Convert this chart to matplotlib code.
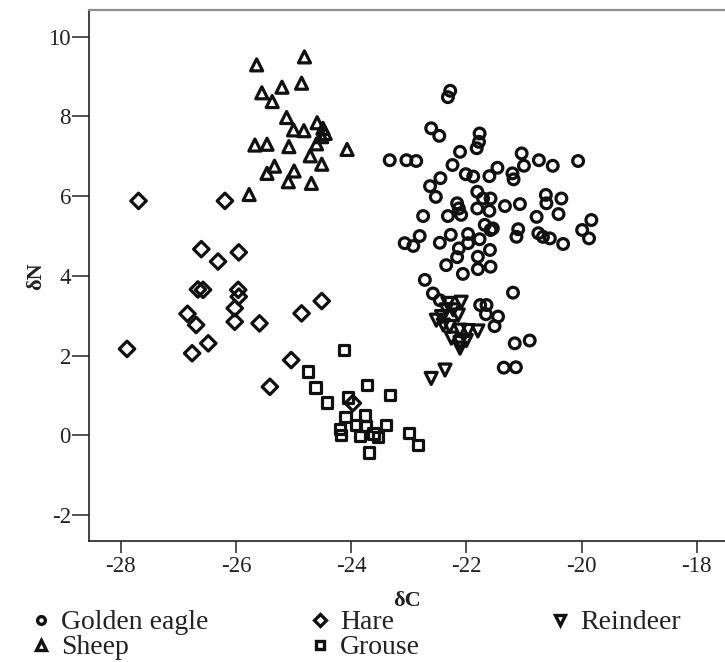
import matplotlib
matplotlib.use("Agg")
import matplotlib.pyplot as plt
from matplotlib.lines import Line2D

plt.rcParams['font.family'] = ['Liberation Serif', 'DejaVu Serif']
plt.rcParams['axes.unicode_minus'] = False

# ---- data (δC, δN) ----
eagle_x = [-22.28, -22.32, -22.61, -22.47, -21.77, -21.78, -21.82, -22.11, -23.33, -23.04,
           -22.87, -21.04, -21.00, -20.74, -20.50, -20.06, -22.24, -22.01, -21.88, -21.60,
           -21.46, -21.20, -21.18, -22.45, -22.63, -22.53, -21.81, -21.71, -21.58, -22.16,
           -22.13, -21.81, -21.60, -21.33, -21.07, -20.62, -20.61, -20.35, -20.40, -20.78,
           -22.75, -22.32, -22.09, -19.83, -19.99, -19.87, -21.68, -21.54, -21.58, -21.10,
           -21.13, -20.75, -20.67, -20.55, -20.32, -22.81, -23.07, -22.92, -22.46, -22.27,
           -21.97, -21.97, -21.77, -22.13, -21.59, -22.16, -21.80, -22.35, -22.06, -21.80,
           -21.58, -22.72, -22.58, -21.19, -21.76, -21.65, -21.66, -21.45, -21.51, -21.16,
           -20.90, -21.35, -21.14, -22.46]
eagle_y = [8.64, 8.48, 7.70, 7.51, 7.57, 7.36, 7.20, 7.11, 6.90, 6.90,
           6.88, 7.07, 6.76, 6.90, 6.76, 6.88, 6.78, 6.55, 6.49, 6.50,
           6.71, 6.57, 6.42, 6.45, 6.25, 5.98, 6.11, 5.94, 5.94, 5.82,
           5.69, 5.69, 5.63, 5.75, 5.80, 6.03, 5.82, 5.94, 5.55, 5.48,
           5.50, 5.50, 5.53, 5.40, 5.15, 4.94, 5.28, 5.19, 5.15, 5.17,
           4.98, 5.07, 4.98, 4.94, 4.80, 5.00, 4.82, 4.75, 4.83, 5.03,
           5.05, 4.82, 4.92, 4.69, 4.65, 4.47, 4.48, 4.27, 4.05, 4.17,
           4.23, 3.90, 3.56, 3.58, 3.27, 3.27, 3.04, 2.98, 2.74, 2.31,
           2.38, 1.70, 1.71, 3.39]

sheep_x = [-24.81, -25.64, -24.86, -25.20, -25.55, -25.37, -25.12, -24.59, -25.00, -24.82,
           -24.49, -24.45, -24.51, -25.67, -25.46, -25.08, -24.60, -24.07, -24.71, -24.51,
           -25.33, -25.46, -24.99, -25.09, -24.69, -25.77]
sheep_y = [9.49, 9.29, 8.83, 8.73, 8.59, 8.37, 7.97, 7.84, 7.66, 7.64,
           7.70, 7.57, 7.49, 7.28, 7.30, 7.24, 7.31, 7.17, 7.01, 6.80,
           6.75, 6.57, 6.63, 6.36, 6.32, 6.04]

hare_x = [-27.69, -26.19, -26.60, -26.31, -25.95, -26.66, -26.57, -25.96, -25.95, -26.02,
          -26.84, -26.69, -26.02, -25.59, -24.86, -24.51, -27.89, -26.76, -26.48, -25.04,
          -25.41, -23.97]
hare_y = [5.88, 5.88, 4.67, 4.36, 4.59, 3.66, 3.65, 3.65, 3.48, 3.19,
          3.05, 2.77, 2.85, 2.81, 3.06, 3.37, 2.17, 2.06, 2.31, 1.89,
          1.22, 0.81]

reindeer_x = [-22.32, -22.09, -22.23, -22.14, -22.52, -22.40, -22.29, -22.11, -21.97, -21.80,
              -22.26, -22.11, -22.11, -22.00, -22.37, -22.61, -22.43, -22.35]
reindeer_y = [3.31, 3.34, 3.15, 3.02, 2.89, 2.77, 2.73, 2.64, 2.63, 2.62,
              2.44, 2.33, 2.19, 2.38, 1.64, 1.43, 2.98, 3.15]

grouse_x = [-24.12, -24.75, -24.62, -24.42, -23.72, -23.33, -24.06, -24.10, -23.76, -24.19,
            -24.17, -23.75, -23.84, -23.61, -23.53, -23.39, -22.99, -22.84, -23.69, -23.91]
grouse_y = [2.14, 1.60, 1.20, 0.83, 1.27, 1.02, 0.95, 0.46, 0.50, 0.16,
            0.01, 0.24, -0.01, 0.05, -0.03, 0.26, 0.07, -0.24, -0.43, 0.26]

x_ticks = [-28, -26, -24, -22, -20, -18]
y_ticks = [-2, 0, 2, 4, 6, 8, 10]

W, H = 725, 662
fig = plt.figure(figsize=(W / 100, H / 100), dpi=100)
ax = fig.add_axes([89 / W, 1 - 541 / H, 1 - 89 / W, (541 - 10) / H])

lw = 2.3
kw = dict(facecolors='none', edgecolors='#111111', linewidths=lw)
ax.scatter(eagle_x, eagle_y, marker='o', s=60, **kw)
ax.scatter(hare_x, hare_y, marker='D', s=62, **kw)
ax.scatter(reindeer_x, reindeer_y, marker='v', s=75, **kw)
ax.scatter(sheep_x, sheep_y, marker='^', s=75, **kw)
ax.scatter(grouse_x, grouse_y, marker='s', s=55, **kw)

ax.set_xlim(-28.55, -17.51)
ax.set_ylim(-2.645, 10.665)
ax.set_xticks(x_ticks)
ax.set_yticks(y_ticks)
ax.tick_params(axis='y', direction='out', length=12.5, width=1.1, labelsize=16.5,
               colors='#222222', pad=0.5)
ax.tick_params(axis='x', direction='out', length=8.5, width=1.1, labelsize=16.5,
               colors='#222222', pad=2)

ax.spines['right'].set_visible(False)
ax.spines['left'].set_linewidth(1.2)
ax.spines['bottom'].set_linewidth(1.2)
ax.spines['left'].set_color('#222222')
ax.spines['bottom'].set_color('#222222')
ax.spines['top'].set_color('#8c8c8c')
ax.spines['top'].set_linewidth(1.6)

ax.set_xlabel('δC', fontsize=16, fontweight='bold', color='#222222')
ax.set_ylabel('δN', fontsize=16, fontweight='bold', color='#222222')
ax.xaxis.set_label_coords(0.5, (541 - 591) / 531)
ax.yaxis.set_label_coords((46 - 89) / 636, (541 - 276) / 531)


def handle(marker, ms):
    return Line2D([], [], linestyle='none', marker=marker, markersize=ms,
                  markerfacecolor='none', markeredgecolor='#111111', markeredgewidth=2.4)


leg_kw = dict(loc='upper left', frameon=False, fontsize=20, handlelength=0.5,
              handletextpad=0.47, labelspacing=-0.02, borderpad=0, borderaxespad=0,
              labelcolor='#222222')
top = 1 - 610 / H
fig.legend([handle('o', 5.6), handle('^', 7)], ['Golden eagle', 'Sheep'],
           bbox_to_anchor=(34 / W, top), **leg_kw)
fig.legend([handle('D', 6), handle('s', 6.2)], ['Hare', 'Grouse'],
           bbox_to_anchor=(313 / W, top), **leg_kw)
fig.legend([handle('v', 7)], ['Reindeer'],
           bbox_to_anchor=(553 / W, top), **leg_kw)

fig.savefig('out.png', dpi=100)
